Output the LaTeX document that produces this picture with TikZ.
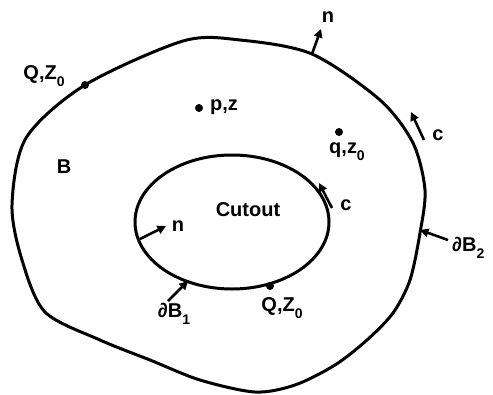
\documentclass[tikz,border=0pt]{standalone}
\usepackage{fontspec}
\setmainfont{Liberation Sans}
\usetikzlibrary{arrows.meta}
\tikzset{
  curve/.style={line width=3pt, line join=round},
  vec/.style={line width=2.6pt, -{Triangle[length=8.5pt,width=8.5pt]}},
  dot/.style={circle, fill=black, inner sep=0pt, minimum size=8pt},
  lbl/.style={font=\bfseries\fontsize{20}{22}\selectfont, inner sep=0pt}
}
\newcommand{\sbo}{\raisebox{-0.35em}{\fontsize{14}{14}\selectfont 0}}
\newcommand{\sbi}{\raisebox{-0.35em}{\fontsize{14}{14}\selectfont 1}}
\newcommand{\sbt}{\raisebox{-0.35em}{\fontsize{14}{14}\selectfont 2}}
\begin{document}
\begin{tikzpicture}[x=1pt, y=-1pt]
\useasboundingbox (0,0) rectangle (493,394);
% outer boundary dB2
\draw[curve] plot[smooth cycle, tension=0.5] coordinates {
 (85,85) (183,41) (240,40) (312,54) (380,100) (413,143)
 (425,190) (420,233) (410,280) (393,313) (367,340) (335,365) (295,385)
 (255,392) (200,380) (150,360) (100,340) (45,312) (22,260) (12,205)
 (26,138)};
% inner boundary dB1
\draw[curve] (232,222) ellipse [x radius=97, y radius=67];

% dots
\node[dot] (Qo) at (85,85) {};
\node[dot] (pz) at (199,108) {};
\node[dot] (qz) at (339,132) {};
\node[dot] (Qi) at (270,286) {};

% labels
\node[lbl] (lQo) at (44,76) {Q,Z\sbo};
\node[lbl, anchor=west] (lpz) at (210,107) {p,z};
\node[lbl] (lqz) at (347,152) {q,z\sbo};
\node[lbl] (lB) at (64,167) {B};
\node[lbl] (lcut) at (248,210) {Cutout};
\node[lbl] (lnout) at (328,17) {n};
\node[lbl] (lcout) at (438,135) {c};
\node[lbl] (lnin) at (178,226) {n};
\node[lbl] (lcin) at (346,205) {c};
\node[lbl] (lQi) at (282,308) {Q,Z\sbo};
\node[lbl] (ldB1) at (174,314) {∂B\sbi};
\node[lbl, anchor=west] (ldB2) at (452,248) {∂B\sbt};

% vector arrows
\coordinate (nob) at (312,54);  \coordinate (not) at (321,29);
\coordinate (cob) at (424,140); \coordinate (cot) at (411,112);
\coordinate (nib) at (140,239); \coordinate (nit) at (166,226);
\coordinate (cib) at (332,208); \coordinate (cit) at (319,183);
\coordinate (b1b) at (168,301); \coordinate (b1t) at (188,281);
\coordinate (b2b) at (448,240); \coordinate (b2t) at (420,230);
\draw[vec] (nob) -- (not);
\draw[vec] (cob) -- (cot);
\draw[vec] (nib) -- (nit);
\draw[vec] (cib) -- (cit);
\draw[vec] (b1b) -- (b1t);
\draw[vec] (b2b) -- (b2t);
\end{tikzpicture}
\end{document}
